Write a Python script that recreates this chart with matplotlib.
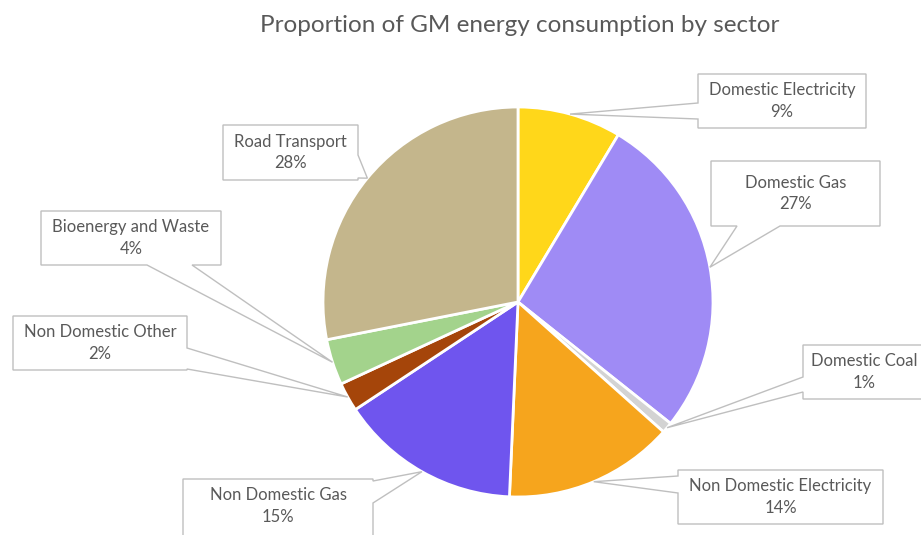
import numpy as np
import matplotlib.pyplot as plt
from matplotlib.patches import Polygon

# data
sectors = ["Domestic Electricity", "Domestic Gas", "Domestic Coal",
           "Non Domestic Electricity", "Non Domestic Gas", "Non Domestic Other",
           "Bioenergy and Waste", "Road Transport"]
shares = [8.6, 27.1, 0.9, 14.1, 15.0, 2.4, 3.8, 28.1]
colors = ["#FFD71A", "#9F8BF5", "#D3D3D3", "#F6A51D",
          "#6F55EE", "#A5450A", "#A3D38C", "#C4B68C"]

# callout boxes in image pixels: (x0, y0, x1, y1), side of pointer, pointer base
boxes = [(698, 74, 866, 128), (711, 161, 880, 226), (803, 345, 940, 399),
         (678, 470, 883, 524), (183, 479, 373, 560), (13, 316, 187, 370),
         (41, 211, 221, 265), (223, 125, 358, 180)]
sides = ["left", "bottom", "left", "left", "right", "right", "bottom", "right"]
bases = [(103, 119), (737, 780), (377, 392), (476, 493), (481, 503),
         (348, 369), (147, 192), (155, 178)]

W, H = 921, 535
plt.rcParams['font.family'] = ['Lato', 'DejaVu Sans']

fig = plt.figure(figsize=(W / 100, H / 100), dpi=100)
ax = fig.add_axes([0, 0, 1, 1])

cx, cy, R = 518, 302, 195
wedges, _ = ax.pie(shares, colors=colors, startangle=90, counterclock=False,
                   center=(cx, H - cy), radius=R,
                   wedgeprops=dict(edgecolor="white", linewidth=2))
ax.set_xlim(0, W)
ax.set_ylim(0, H)
ax.set_aspect("equal")
ax.axis("off")


def callout(box, side, b, tip):
    x0, y0, x1, y1 = box
    b1, b2 = b
    if side == "top":
        pts = [(x0, y0), (b1, y0), tip, (b2, y0), (x1, y0), (x1, y1), (x0, y1)]
    elif side == "right":
        pts = [(x0, y0), (x1, y0), (x1, b1), tip, (x1, b2), (x1, y1), (x0, y1)]
    elif side == "bottom":
        pts = [(x0, y0), (x1, y0), (x1, y1), (b2, y1), tip, (b1, y1), (x0, y1)]
    else:
        pts = [(x0, y0), (x1, y0), (x1, y1), (x0, y1), (x0, b2), tip, (x0, b1)]
    return [(px, H - py) for px, py in pts]


for w, name, v, box, side, b in zip(wedges, sectors, shares, boxes, sides, bases):
    ang = np.deg2rad((w.theta1 + w.theta2) / 2)
    tip = (w.center[0] + w.r * np.cos(ang), H - (w.center[1] + w.r * np.sin(ang)))
    poly = Polygon(callout(box, side, b, tip), closed=True, facecolor="white",
                   edgecolor="#BFBFBF", linewidth=1.0, zorder=3)
    ax.add_patch(poly)
    x0, y0, x1, y1 = box
    xc = (x0 + x1) / 2 if x1 <= W else (x0 + W) / 2 + 2
    yc = (y0 + 54 / 2) if side == "right" and y1 - y0 > 60 else (y0 + y1) / 2
    ax.text(xc, H - yc, f"{name}\n{round(v)}%", ha="center", va="center",
            fontsize=12, color="#595959", linespacing=1.4, zorder=4)

fig.text(520 / W, 1 - 25 / H, "Proportion of GM energy consumption by sector",
         ha="center", va="center", fontsize=17.5, color="#595959")

fig.savefig("out.png", dpi=100, facecolor="white")
